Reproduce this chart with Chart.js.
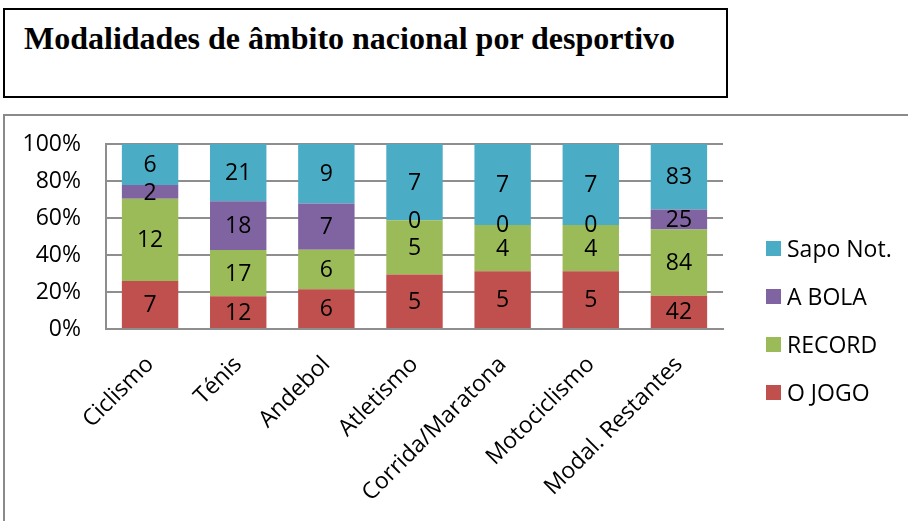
<!DOCTYPE html>
<html lang="pt">
<head>
<meta charset="utf-8">
<title>Modalidades de âmbito nacional por desportivo</title>
<script src="https://cdn.jsdelivr.net/npm/chart.js@4/dist/chart.umd.min.js"></script>
<style>
    body { margin: 0; background: #fff; width: 908px; height: 521px; overflow: hidden; position: relative; font-family: 'Open Sans', sans-serif; }
    #titleBox { position: absolute; left: 3px; top: 8px; width: 721px; height: 86px; border: 2px solid #000; }
    #titleBox h1 { margin: 0; position: absolute; left: 19px; top: 12px; font: bold 32px/32px 'Liberation Serif', serif; color: #000; white-space: nowrap; }
    #chartBox { position: absolute; left: 3px; top: 114px; width: 940px; height: 440px; border: 2px solid #8a8a8a; }
    #grafico { position: absolute; left: 0; top: 0; }
    #legenda { position: absolute; left: 766px; top: 224px; list-style: none; margin: 0; padding: 0; }
    #legenda li { height: 48px; display: flex; align-items: center; font-size: 23px; color: #000; white-space: nowrap; }
    #legenda li span { display: inline-block; width: 15px; height: 15px; margin-right: 6px; }
</style>
</head>
<body>
<div id="titleBox"><h1>Modalidades de âmbito nacional por desportivo</h1></div>
<div id="chartBox"></div>
<canvas id="grafico" width="908" height="521"></canvas>
<ul id="legenda"></ul>

<script>
// Categorias (modalidades)
const modalidades = ['Ciclismo', 'Ténis', 'Andebol', 'Atletismo', 'Corrida/Maratona', 'Motociclismo', 'Modal. Restantes'];

// Número de notícias por jornal
const oJogo   = [7, 12, 6, 5, 5, 5, 42];
const record  = [12, 17, 6, 5, 4, 4, 84];
const aBola   = [2, 18, 7, 0, 0, 0, 25];
const sapoNot = [6, 21, 9, 7, 7, 7, 83];

// Marcas do eixo Y
const ticksY = [0, 20, 40, 60, 80, 100];

const series = [
    { label: 'O JOGO', valores: oJogo, cor: '#C0504D' },
    { label: 'RECORD', valores: record, cor: '#9BBB59' },
    { label: 'A BOLA', valores: aBola, cor: '#8064A2' },
    { label: 'Sapo Not.', valores: sapoNot, cor: '#4BACC6' }
];

// Totais por modalidade para empilhar a 100%
const totais = modalidades.map((_, i) => series.reduce((s, d) => s + d.valores[i], 0));

const fonte = "'Open Sans', sans-serif";

// Plugin simples para escrever os valores no meio de cada segmento
const rotulosPlugin = {
    id: 'rotulos',
    afterDatasetsDraw(chart) {
        const ctx = chart.ctx;
        ctx.save();
        ctx.font = `23px ${fonte}`;
        ctx.fillStyle = '#000';
        ctx.textAlign = 'center';
        ctx.textBaseline = 'middle';
        chart.data.datasets.forEach((ds, di) => {
            const meta = chart.getDatasetMeta(di);
            meta.data.forEach((bar, i) => {
                const { x, y, base } = bar.getProps(['x', 'y', 'base'], true);
                ctx.fillText(String(ds.contagens[i]), x, (y + base) / 2 + 1);
            });
        });
        ctx.restore();
    }
};

const grafico = new Chart(document.getElementById('grafico'), {
    type: 'bar',
    data: {
        labels: modalidades,
        datasets: series.map(s => ({
            label: s.label,
            contagens: s.valores,
            data: s.valores.map((v, i) => v / totais[i] * 100),
            backgroundColor: s.cor,
            borderWidth: 0,
            barPercentage: 0.64,
            categoryPercentage: 1
        }))
    },
    options: {
        responsive: false,
        animation: false,
        layout: { padding: { top: 144, right: 185, bottom: 0, left: 0 } },
        plugins: {
            legend: { display: false },
            tooltip: { enabled: false }
        },
        scales: {
            x: {
                stacked: true,
                grid: { display: false, drawTicks: false },
                border: { color: '#8e8e8e', width: 2 },
                ticks: {
                    color: '#000',
                    font: { family: fonte, size: 23 },
                    minRotation: 45,
                    maxRotation: 45,
                    padding: 22
                },
                afterFit: (scale) => { scale.height = 521 - 329; }
            },
            y: {
                stacked: true,
                min: 0,
                max: 100,
                afterBuildTicks: (scale) => { scale.ticks = ticksY.map(v => ({ value: v })); },
                grid: { color: '#8e8e8e', lineWidth: 2, drawTicks: false },
                border: { color: '#8e8e8e', width: 2 },
                ticks: {
                    color: '#000',
                    font: { family: fonte, size: 23 },
                    padding: 25,
                    callback: (v) => v + '%'
                },
                afterFit: (scale) => { scale.width = 106; }
            }
        }
    },
    plugins: [rotulosPlugin]
});

// Legenda em HTML (ordem invertida, como no original)
const legenda = document.getElementById('legenda');
[...series].reverse().forEach(s => {
    const li = document.createElement('li');
    li.innerHTML = `<span style="background:${s.cor}"></span>${s.label}`;
    legenda.appendChild(li);
});
</script>
</body>
</html>
